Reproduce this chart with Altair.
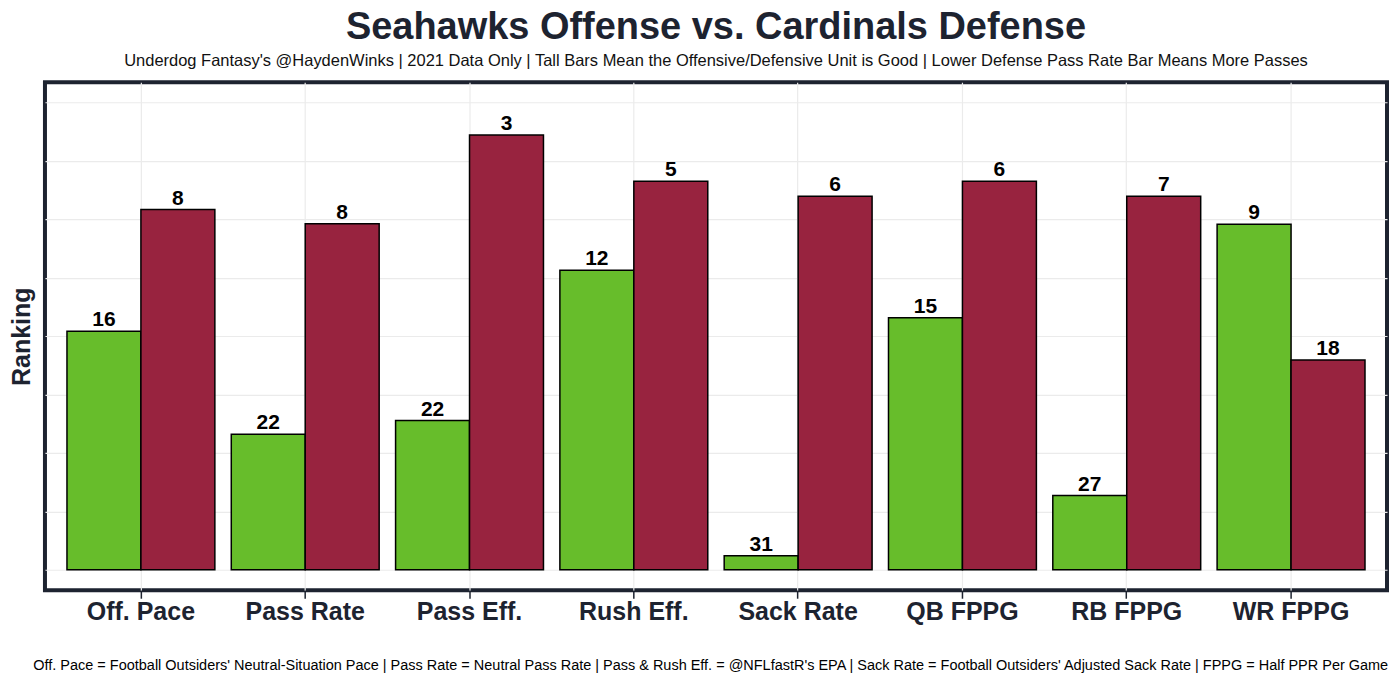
import altair as alt
import pandas as pd

categories = ["Off. Pace", "Pass Rate", "Pass Eff.", "Rush Eff.", "Sack Rate", "QB FPPG", "RB FPPG", "WR FPPG"]
units = ["Offense", "Defense"]
off_rank = [16, 22, 22, 12, 31, 15, 27, 9]
def_rank = [8, 8, 3, 5, 6, 6, 7, 18]
off_score = [16.32, 9.28, 10.21, 20.51, 0.96, 17.25, 5.08, 23.66]
def_score = [24.66, 23.68, 29.76, 26.6, 25.57, 26.6, 25.57, 14.36]
grid_values = [0, 4, 8, 12, 16, 20, 24, 28, 32]

title_text = "Seahawks Offense vs. Cardinals Defense"
subtitle_text = ("Underdog Fantasy's @HaydenWinks | 2021 Data Only | Tall Bars Mean the Offensive/Defensive Unit is Good"
                 " | Lower Defense Pass Rate Bar Means More Passes")
caption_text = ("Off. Pace = Football Outsiders' Neutral-Situation Pace | Pass Rate = Neutral Pass Rate | "
                "Pass & Rush Eff. = @NFLfastR's EPA | Sack Rate = Football Outsiders' Adjusted Sack Rate | "
                "FPPG = Half PPR Per Game")

rows = []
for i, c in enumerate(categories):
    rows.append({"cat": c, "unit": "Offense", "score": off_score[i], "rank": off_rank[i]})
    rows.append({"cat": c, "unit": "Defense", "score": def_score[i], "rank": def_rank[i]})
df = pd.DataFrame(rows)

FONT = "Liberation Sans"
NAVY = "#1d2330"

x_enc = alt.X(
    "cat:N", sort=categories,
    scale=alt.Scale(paddingInner=0, paddingOuter=0.084),
    axis=alt.Axis(
        title=caption_text, titleFont=FONT, titleFontSize=14.5, titleFontWeight="normal",
        titleColor="#000000", titlePadding=34, titleX=666,
        labelAngle=0, labelFont=FONT, labelFontSize=25, labelFontWeight="bold", labelColor=NAVY,
        labelPadding=1,
        ticks=True, tickColor=NAVY, tickSize=8, tickWidth=1.5,
        domain=False, grid=True, gridColor="#ebebeb", gridWidth=1.2,
    ),
)
xoff_enc = alt.XOffset("unit:N", sort=units, scale=alt.Scale(paddingInner=0, paddingOuter=0.111))
y_enc = alt.Y(
    "score:Q",
    scale=alt.Scale(domain=[-1.4, 33.37], nice=False, zero=False),
    axis=alt.Axis(
        title="Ranking", titleFont=FONT, titleFontSize=25, titleFontWeight="bold", titleColor=NAVY,
        titlePadding=10, labels=False, ticks=False, domain=False,
        values=grid_values, grid=True, gridColor="#ebebeb", gridWidth=1.2,
    ),
)

base = alt.Chart(df)

bars = base.mark_bar(stroke="#000000", strokeWidth=1.5).encode(
    x=x_enc,
    xOffset=xoff_enc,
    y=y_enc,
    y2=alt.datum(0),
    color=alt.Color("unit:N", scale=alt.Scale(domain=units, range=["#67bd2b", "#98233f"]), legend=None),
)

labels = base.mark_text(
    baseline="bottom", dy=-1, font=FONT, fontSize=21, fontWeight="bold", color="#000000"
).encode(
    x=alt.X("cat:N", sort=categories),
    xOffset=alt.XOffset("unit:N", sort=units),
    y=alt.Y("score:Q"),
    text=alt.Text("rank:Q"),
)

chart = alt.layer(bars, labels).properties(
    width=1343.5,
    height=508.5,
    title=alt.TitleParams(
        text=title_text, subtitle=subtitle_text, anchor="middle", frame="group",
        font=FONT, fontSize=38, fontWeight="bold", color=NAVY,
        subtitleFont=FONT, subtitleFontSize=16.5, subtitleColor="#111111", subtitlePadding=6,
        offset=13,
    ),
    autosize=alt.AutoSizeParams(type="none"),
    padding={"left": 37, "top": 74, "right": 5, "bottom": 85},
).configure(
    background="#ffffff",
    view=alt.ViewConfig(stroke=NAVY, strokeWidth=4),
)

chart.save("out.html", embed_options={"renderer": "svg", "actions": False})
